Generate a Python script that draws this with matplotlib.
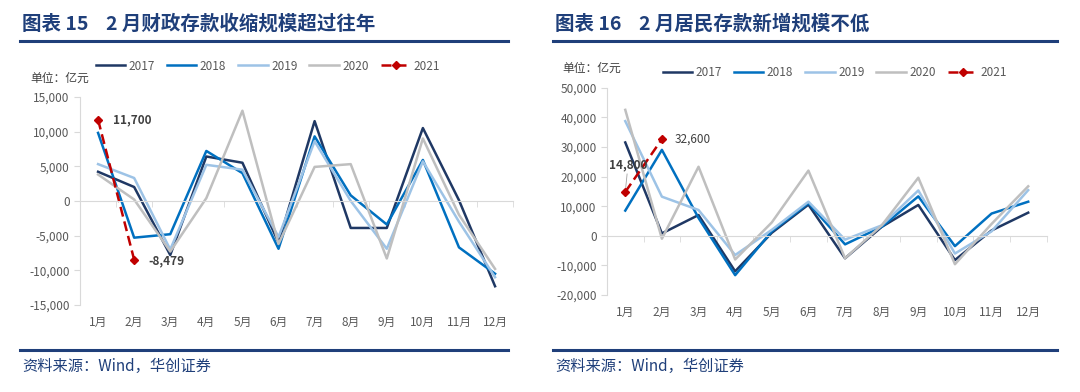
import numpy as np
import matplotlib
matplotlib.use("Agg")
import matplotlib.pyplot as plt
from matplotlib.lines import Line2D
from matplotlib.ticker import FuncFormatter

plt.rcParams['font.family'] = ['Noto Sans CJK SC', 'DejaVu Sans']

# data
months = ["1月", "2月", "3月", "4月", "5月", "6月", "7月", "8月", "9月", "10月", "11月", "12月"]
years = ["2017", "2018", "2019", "2020"]

# chart 15: fiscal deposits (亿元)
fiscal_2017 = [4200, 2000, -7800, 6400, 5500, -6000, 11500, -3900, -3900, 10500, 100, -12300]
fiscal_2018 = [9800, -5300, -4800, 7200, 4000, -6900, 9300, 800, -3400, 5900, -6700, -10500]
fiscal_2019 = [5300, 3300, -7000, 5200, 4500, -5200, 8600, 0, -6900, 5700, -3000, -11000]
fiscal_2020 = [3800, 200, -7300, 400, 13000, -6200, 4900, 5300, -8300, 9000, -2000, -9800]
fiscal_2021 = [11700, -8479]

# chart 16: household deposits (亿元)
house_2017 = [31500, 800, 7000, -12000, 1000, 10500, -7600, 3000, 10400, -8200, 1800, 7800]
house_2018 = [8500, 29000, 6000, -13300, 1500, 11000, -2900, 3000, 13300, -3500, 7500, 11500]
house_2019 = [38700, 13200, 8700, -6500, 2000, 11500, -1300, 3500, 15300, -6000, 1500, 15400]
house_2020 = [42500, -1000, 23300, -8000, 4500, 22000, -7600, 3500, 19600, -9600, 4000, 16700]
house_2021 = [14800, 32600]

colors = ["#1F3864", "#0070C0", "#9DC3E6", "#BFBFBF"]
red = "#C00000"
title_blue = "#1F3F7A"
grid_gray = "#D9D9D9"
text_gray = "#595959"

fig = plt.figure(figsize=(10.8, 3.92), dpi=100)


def draw_panel(rect, series, s2021, ylim, ystep):
    ax = fig.add_axes(rect)
    x = np.arange(len(months))
    for name, vals, c in zip(years, series, colors):
        ax.plot(x, vals, color=c, lw=1.8, label=name)
    ax.plot(x[:len(s2021)], s2021, color=red, lw=1.8, ls=(0, (4, 2)),
            marker="D", ms=4.5, label="2021")
    ax.set_xlim(-0.5, 11.5)
    ax.set_ylim(*ylim)
    ax.set_yticks(np.arange(ylim[0], ylim[1] + 1, ystep))
    ax.yaxis.set_major_formatter(FuncFormatter(lambda v, p: "{:,.0f}".format(v)))
    ax.tick_params(axis="y", colors=grid_gray, labelcolor=text_gray, labelsize=8.5, length=4)
    for s in ["top", "right"]:
        ax.spines[s].set_visible(False)
    ax.spines["left"].set_color(grid_gray)
    ax.spines["bottom"].set_position(("data", 0))
    ax.spines["bottom"].set_color(grid_gray)
    ax.set_xticks(x)
    ax.set_xticks(np.arange(-0.5, 12, 1), minor=True)
    ax.tick_params(axis="x", which="major", length=0, labelbottom=False)
    ax.tick_params(axis="x", which="minor", length=4, color=grid_gray)
    sec = ax.secondary_xaxis("bottom")
    sec.set_xticks(x, months)
    sec.tick_params(length=0, pad=8, labelsize=8.5, labelcolor=text_gray)
    sec.spines["bottom"].set_visible(False)
    return ax


ax1 = draw_panel([0.0741, 0.222, 0.401, 0.531],
                 [fiscal_2017, fiscal_2018, fiscal_2019, fiscal_2020], fiscal_2021,
                 (-15000, 15000), 5000)
ax2 = draw_panel([0.562, 0.2474, 0.407, 0.529],
                 [house_2017, house_2018, house_2019, house_2020], house_2021,
                 (-20000, 50000), 10000)

# legends
legend_kw = dict(loc="center", bbox_transform=fig.transFigure, ncol=5, frameon=False,
                 fontsize=8.5, labelcolor=text_gray, handlelength=2.5,
                 columnspacing=1.0, handletextpad=0.3)
ax1.legend(bbox_to_anchor=(268 / 1080, 1 - 66 / 392), **legend_kw)
ax2.legend(bbox_to_anchor=(835 / 1080, 1 - 73 / 392), **legend_kw)

# data labels
ax1.annotate("11,700", (0, fiscal_2021[0]), xytext=(11, 0), textcoords="offset points",
             ha="left", va="center", fontsize=8.5, fontweight="bold", color="#404040")
ax1.annotate("-8,479", (1, fiscal_2021[1]), xytext=(10, -1), textcoords="offset points",
             ha="left", va="center", fontsize=8.5, fontweight="bold", color="#404040")
ax2.annotate("14,800", (0, house_2021[0]), xytext=(2, 15), textcoords="offset points",
             ha="center", va="bottom", fontsize=8.5, fontweight="bold", color="#404040",
             arrowprops=dict(arrowstyle="-", color="#A0A0A0", lw=0.6, shrinkA=0, shrinkB=3))
ax2.annotate("32,600", (1, house_2021[1]), xytext=(9, 0), textcoords="offset points",
             ha="left", va="center", fontsize=8.5, color="#404040")

# unit labels
fig.text(30 / 1080, 1 - 78 / 392, "单位：亿元", fontsize=8.5, color="#404040", va="center")
fig.text(562 / 1080, 1 - 68 / 392, "单位：亿元", fontsize=8.5, color="#404040", va="center")

# titles, rules and sources
for x0, x1, title in [(20, 508, "图表 15    2 月财政存款收缩规模超过往年"),
                      (553, 1057, "图表 16    2 月居民存款新增规模不低")]:
    fig.text((x0 + 2) / 1080, 1 - 24 / 392, title, fontsize=14, fontweight="bold",
             color=title_blue, va="center")
    fig.add_artist(Line2D([x0 / 1080, x1 / 1080], [1 - 41 / 392] * 2, color=title_blue, lw=2.2))
    fig.add_artist(Line2D([x0 / 1080, x1 / 1080], [1 - 349.5 / 392] * 2, color=title_blue, lw=2.2))
    fig.text((x0 + 2) / 1080, 1 - 366 / 392, "资料来源：Wind，华创证券", fontsize=11,
             style="italic", color=title_blue, va="center")

fig.savefig("out.png", dpi=100)
